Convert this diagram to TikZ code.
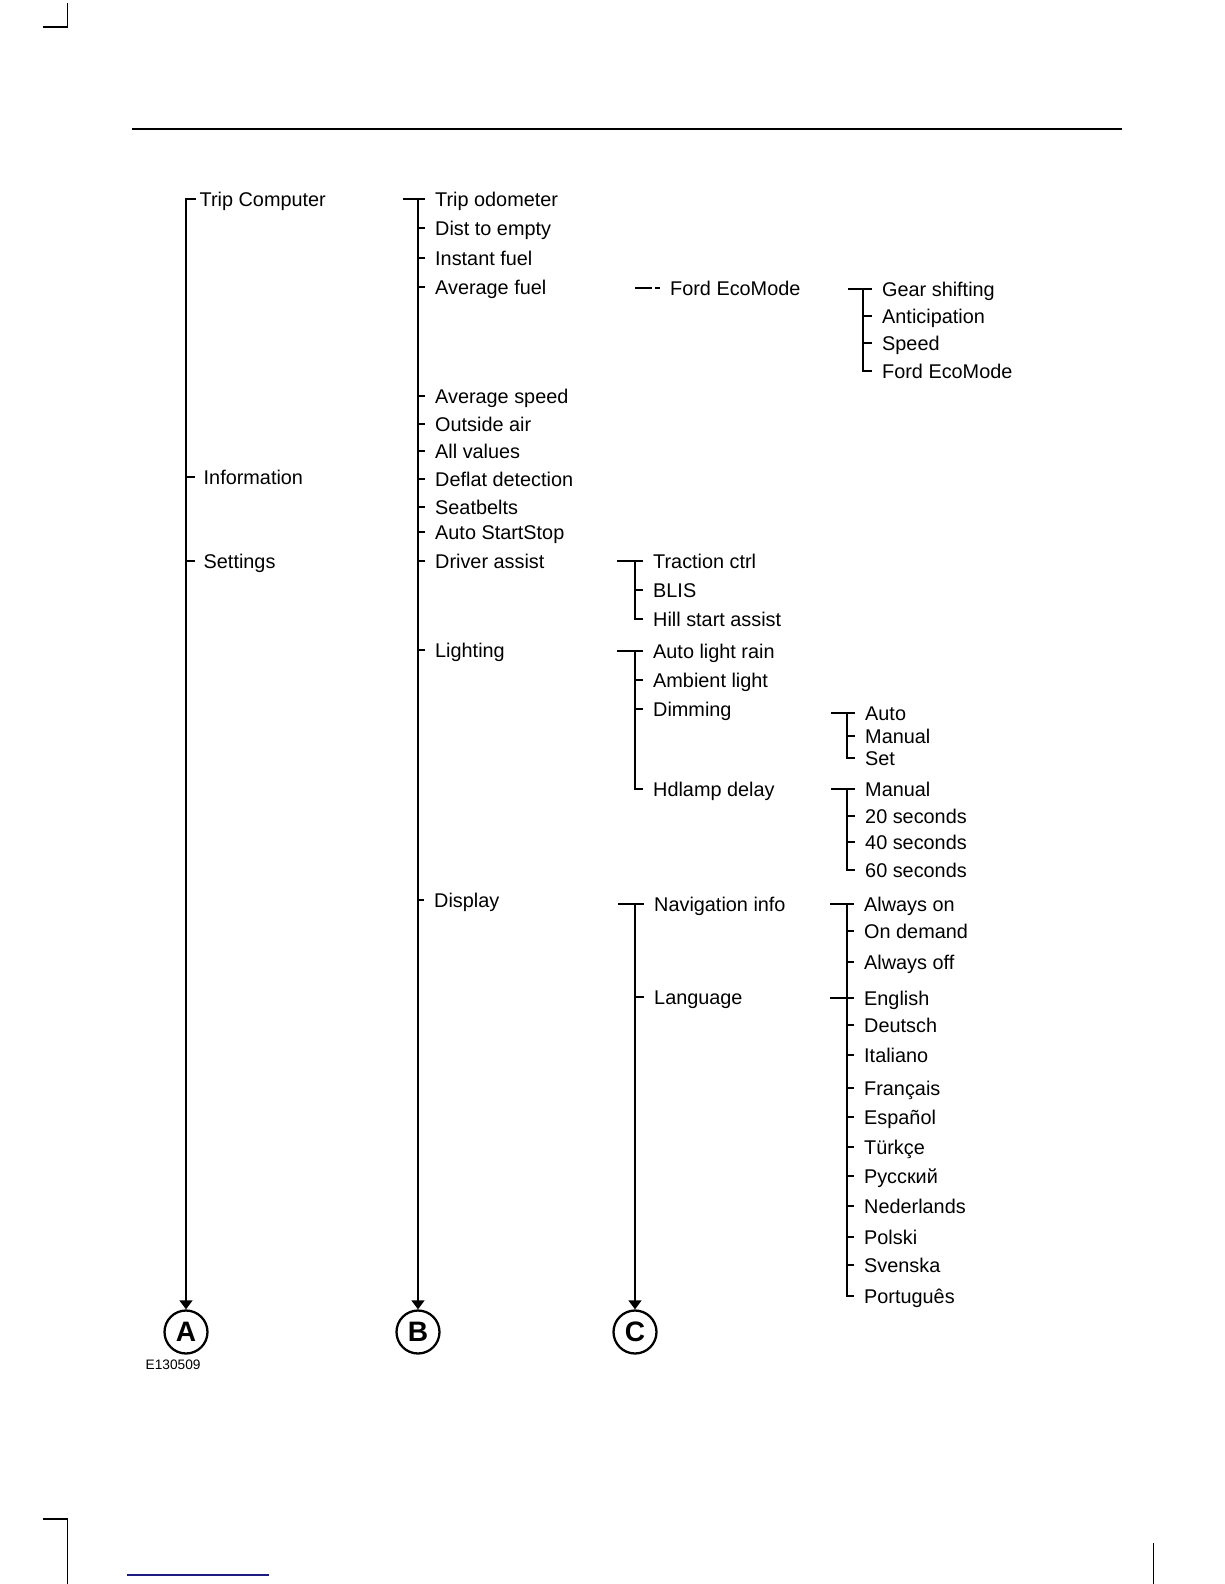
\documentclass[tikz,border=0pt]{standalone}
\usepackage{fontspec}
\setmainfont{Liberation Sans}
\usetikzlibrary{arrows.meta}
\definecolor{linkblue}{RGB}{28,28,128}

\begin{document}
\begin{tikzpicture}[x=0.02cm,y=-0.02cm,>={Triangle[length=1.8mm,width=2.6mm]},line width=0.8pt,
  item/.style={anchor=west,inner xsep=0.19cm,inner ysep=0pt,text height=8.1pt,text depth=0pt,font=\fontsize{11.3}{13}\selectfont},
  letter/.style={circle,draw,line width=1.3pt,minimum size=0.86cm,inner sep=0pt,font=\fontsize{16}{18}\selectfont\bfseries}]
\useasboundingbox (0,0) rectangle (1224,1584);
% page marks and rule
\draw[line width=0.7pt] (43,27) -- (67.7,27) -- (67.7,3);
\draw[line width=0.7pt] (43,1519) -- (67.7,1519) -- (67.7,1584);
\draw[line width=0.7pt] (1153.7,1543) -- (1153.7,1584);
\draw[linkblue,line width=0.6pt] (127,1575) -- (269,1575);
\draw[line width=0.6pt] (132,129) -- (1122,129);

% column A
\node[item,inner xsep=0.06cm] (trip) at (196,199) {Trip Computer};
\node[item,inner xsep=0.16cm] (info) at (195,477) {Information};
\node[item,inner xsep=0.16cm] (sett) at (195,561) {Settings};
\node[letter] (A) at (186,1332) {A};
\node[anchor=west,inner sep=0pt,font=\fontsize{7.8}{9}\selectfont] (code) at (145,1365) {E130509};
\draw[->] (trip.west) -| (A.north);
\draw (info.west) -- (info.west -| A.north);
\draw (sett.west) -- (sett.west -| A.north);

% column B
\node[item] (odo) at (425,199) {Trip odometer};
\node[item] (dist) at (425,228) {Dist to empty};
\node[item] (inst) at (425,258) {Instant fuel};
\node[item] (avgf) at (425,287) {Average fuel};
\node[item] (avgs) at (425,396) {Average speed};
\node[item] (out) at (425,424) {Outside air};
\node[item] (all) at (425,451) {All values};
\node[item] (defl) at (425,479) {Deflat detection};
\node[item] (belt) at (425,507) {Seatbelts};
\node[item] (ass) at (425,532) {Auto StartStop};
\node[item] (drv) at (425,561) {Driver assist};
\node[item] (light) at (425,650) {Lighting};
\node[item] (disp) at (424,900) {Display};
\node[letter] (B) at (418,1332) {B};
\coordinate (tB) at (403,199);
\draw (tB) -- (odo.west);
\draw[->] (tB -| B.north) -- (B.north);
\foreach \n in {dist,inst,avgf,avgs,out,all,defl,belt,ass,drv,light,disp}
  \draw (\n.west) -- (\n.west -| B.north);

% column C
\coordinate (sC) at (635,0);
\node[item] (eco) at (660,288) {Ford EcoMode};
\draw (eco.west -| sC) -- ++(17,0);
\draw ([xshift=-0.1cm]eco.west) -- (eco.west);

\node[item] (trac) at (643,561) {Traction ctrl};
\node[item] (blis) at (643,590) {BLIS};
\node[item] (hill) at (643,619) {Hill start assist};
\draw (617,561) -- (trac.west);
\draw (trac.west -| sC) |- (hill.west);
\draw (blis.west -| sC) -- (blis.west);

\node[item] (alr) at (643,651) {Auto light rain};
\node[item] (amb) at (643,680) {Ambient light};
\node[item] (dim) at (643,709) {Dimming};
\node[item] (hdl) at (643,789) {Hdlamp delay};
\draw (617,651) -- (alr.west);
\draw (alr.west -| sC) |- (hdl.west);
\foreach \n in {amb,dim}
  \draw (\n.west -| sC) -- (\n.west);

\node[item] (nav) at (644,904) {Navigation info};
\node[item] (lang) at (644,997) {Language};
\node[letter] (C) at (635,1332) {C};
\draw (618,904) -- (nav.west);
\draw[->] (nav.west -| C.north) -- (C.north);
\draw (lang.west -| C.north) -- (lang.west);

% column D
\coordinate (sE) at (863,0);
\node[item] (gear) at (872,289) {Gear shifting};
\node[item] (anti) at (872,316) {Anticipation};
\node[item] (spd) at (872,343) {Speed};
\node[item] (eco2) at (872,371) {Ford EcoMode};
\draw (848,289) -- (gear.west);
\draw (gear.west -| sE) |- (eco2.west);
\foreach \n in {anti,spd}
  \draw (\n.west -| sE) -- (\n.west);

\coordinate (sD) at (847,0);
\node[item] (auto) at (855,713) {Auto};
\node[item] (man) at (855,736) {Manual};
\node[item] (set) at (855,758) {Set};
\draw (831,713) -- (auto.west);
\draw (auto.west -| sD) |- (set.west);
\draw (man.west -| sD) -- (man.west);

\node[item] (hman) at (855,789) {Manual};
\node[item] (s20) at (855,816) {20 seconds};
\node[item] (s40) at (855,842) {40 seconds};
\node[item] (s60) at (855,870) {60 seconds};
\draw (831,789) -- (hman.west);
\draw (hman.west -| sD) |- (s60.west);
\foreach \n in {s20,s40}
  \draw (\n.west -| sD) -- (\n.west);

\node[item] (aon) at (854,904) {Always on};
\node[item] (odem) at (854,931) {On demand};
\node[item] (aoff) at (854,962) {Always off};
\node[item] (eng) at (854,998) {English};
\node[item] (deu) at (854,1025) {Deutsch};
\node[item] (ita) at (854,1055) {Italiano};
\node[item] (fra) at (854,1088) {Français};
\node[item] (esp) at (854,1117) {Español};
\node[item] (tur) at (854,1147) {Türkçe};
\node[item] (rus) at (854,1176) {Русский};
\node[item] (ned) at (854,1206) {Nederlands};
\node[item] (pol) at (854,1237) {Polski};
\node[item] (sve) at (854,1265) {Svenska};
\node[item] (por) at (854,1296) {Português};
\draw (830,904) -- (aon.west);
\draw (830,998) -- (eng.west);
\draw (aon.west -| sD) |- (por.west);
\foreach \n in {odem,aoff,deu,ita,fra,esp,tur,rus,ned,pol,sve}
  \draw (\n.west -| sD) -- (\n.west);
\end{tikzpicture}
\end{document}
